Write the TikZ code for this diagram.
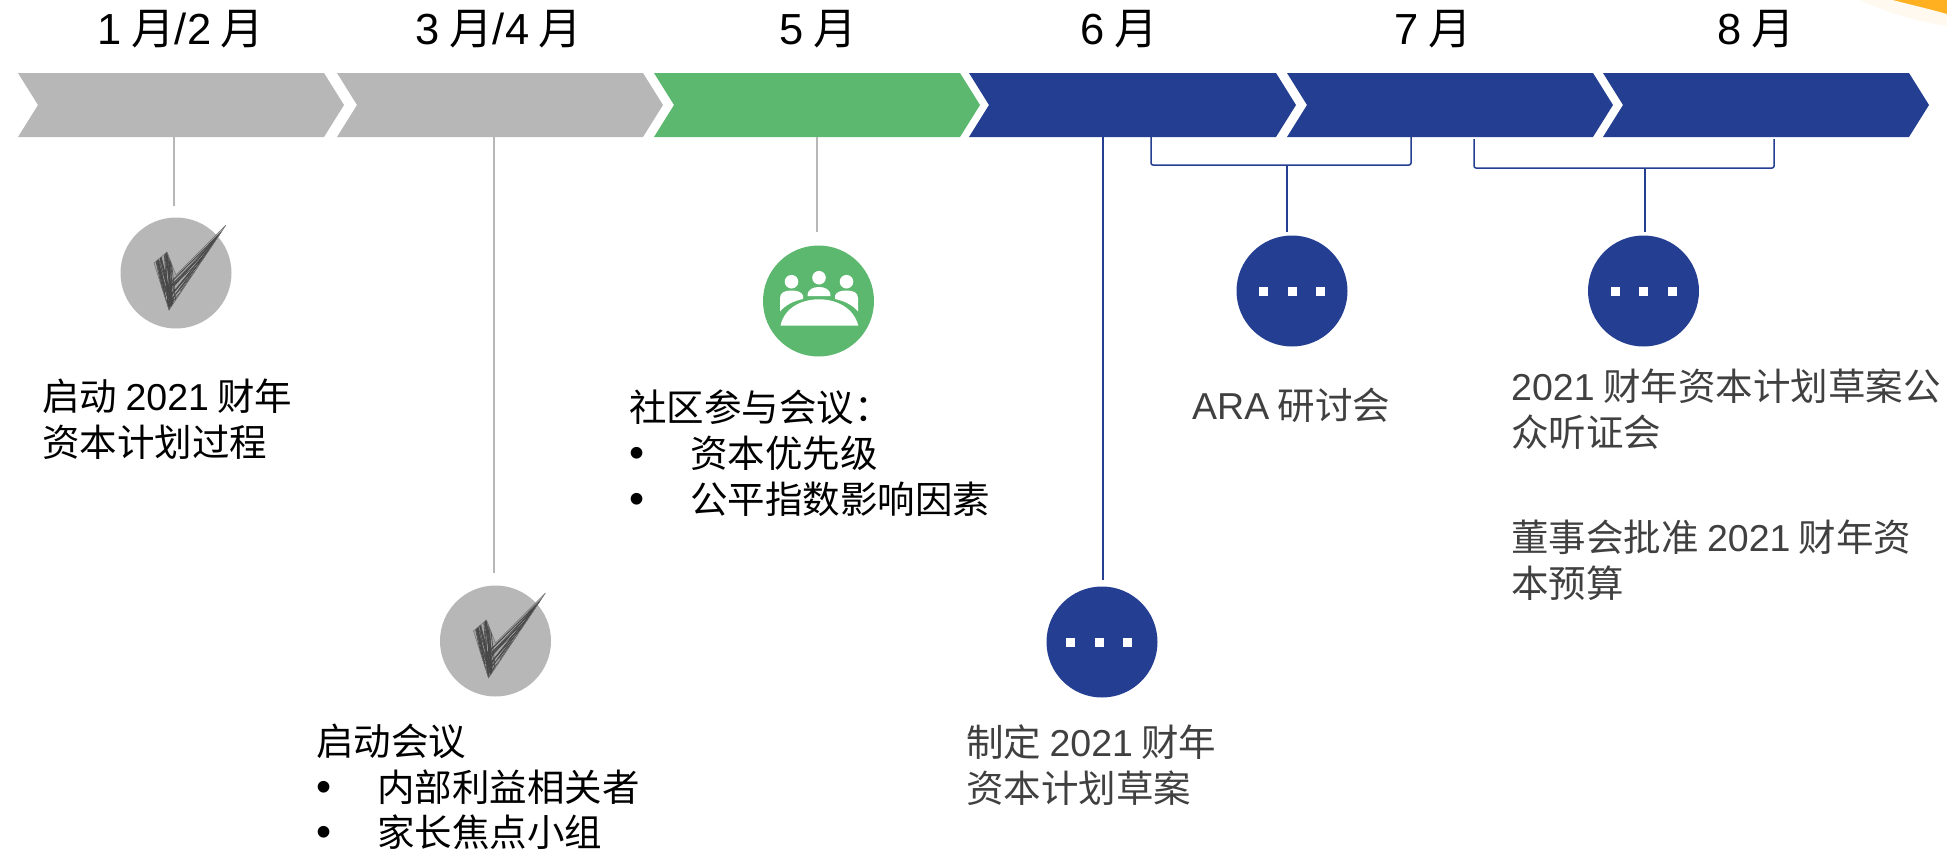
\documentclass[tikz,border=0pt]{standalone}
\usepackage{fontspec}
\setmainfont{Noto Sans CJK SC}
\newfontfamily\lat{Liberation Sans}
\newcommand{\la}[1]{{\lat #1}}
\newcommand{\bul}[1]{\makebox[61pt][l]{\lat\fontsize{43pt}{46pt}\selectfont •}#1}
\usetikzlibrary{calc}
\definecolor{chgray}{HTML}{B7B7B7}
\definecolor{chgreen}{HTML}{5CB86F}
\definecolor{chblue}{HTML}{243E92}
\definecolor{txt}{HTML}{404040}
\definecolor{orangec}{HTML}{FFB020}
\tikzset{
 x=1pt,y=-1pt,
 chev/.style={fill=#1,draw=none},
 grayline/.style={draw=chgray,line width=2pt},
 blueline/.style={draw=chblue,line width=2pt},
 thinblue/.style={draw=chblue,line width=1.5pt,rounded corners=2pt},
 month/.style={font=\fontsize{43.5pt}{46pt}\selectfont,text=black,inner sep=0pt,anchor=center},
 body/.style={font=\fontsize{37.5pt}{45.6pt}\selectfont,text=#1,inner sep=0pt,anchor=north west,align=left},
 body/.default=txt,
 disc/.style={circle,fill=#1,minimum size=111pt,inner sep=0pt,draw=none},
 dotsq/.style={fill=white,draw=none,minimum size=9pt,inner sep=0pt},
 scribblecheck/.pic={
  \begin{scope}
   \clip (-22,-10) -- (-9,-21) -- (0,2) -- (50,-48) -- (-7,37) -- cycle;
   \fill[black!40,opacity=.6] (-30,-50) rectangle (55,40);
   \pgfmathsetseed{11}
   \foreach \i in {1,...,30}{
     \pgfmathsetmacro{\ax}{-24+rnd*22}
     \pgfmathsetmacro{\bx}{-10+rnd*12}
     \draw[black!72,line width=.6pt] (\ax,-22) -- (\bx,38);
   }
   \foreach \i in {1,...,30}{
     \pgfmathsetmacro{\ax}{-12+rnd*26}
     \pgfmathsetmacro{\ay}{38-rnd*26}
     \pgfmathsetmacro{\by}{-52+rnd*16}
     \draw[black!72,line width=.55pt] (\ax,\ay) -- (52,\by);
   }
  \end{scope}
  \draw[black!55,line width=.5pt] (-22,-10) -- (-9,-21) -- (0,2) -- (50,-48) -- (-7,37) -- cycle;
 }
}
\begin{document}
\begin{tikzpicture}
\useasboundingbox (0,0) rectangle (1947,852);
% orange corner
\fill[orangec!7] (1860,0) .. controls (1890,14) and (1920,22) .. (1947,26) -- (1947,0) -- cycle;
\fill[orangec] (1893,0) .. controls (1912,5) and (1930,9) .. (1947,14) -- (1947,0) -- cycle;
% chevrons
\fill[chev=chgray] (18,73) -- (324,73) -- (344,105) -- (324,137) -- (18,137) -- (38,105) -- cycle;
\fill[chev=chgray] (337,73) -- (643,73) -- (663,105) -- (643,137) -- (337,137) -- (357,105) -- cycle;
\fill[chev=chgreen] (654,73) -- (960,73) -- (980,105) -- (960,137) -- (654,137) -- (674,105) -- cycle;
\fill[chev=chblue] (969,73) -- (1276,73) -- (1296,105) -- (1276,137) -- (969,137) -- (989,105) -- cycle;
\fill[chev=chblue] (1287,73) -- (1593,73) -- (1613,105) -- (1593,137) -- (1287,137) -- (1307,105) -- cycle;
\fill[chev=chblue] (1603,73) -- (1909,73) -- (1929,105) -- (1909,137) -- (1603,137) -- (1623,105) -- cycle;
% months
\node[month] (m1) at (181,29) {\la{1} 月\la{/2} 月};
\node[month] (m2) at (499,29) {\la{3} 月\la{/4} 月};
\node[month] (m3) at (818,29) {\la{5} 月};
\node[month] (m4) at (1119,29) {\la{6} 月};
\node[month] (m5) at (1433,29) {\la{7} 月};
\node[month] (m6) at (1756,29) {\la{8} 月};
% discs
\node[disc=chgray] (d1) at (176,273) {};
\node[disc=chgray] (d2) at (495.5,641) {};
\node[disc=chgreen] (d3) at (818.5,301) {};
\node[disc=chblue] (d4) at (1102,642) {};
\node[disc=chblue] (d5) at (1292,291) {};
\node[disc=chblue] (d6) at (1643.5,291) {};
\pic at (d1) {scribblecheck};
\pic at (d2) {scribblecheck};
% dots
\foreach \n/\dx in {d4/-3,d5/0,d6/0}{
  \foreach \o in {-28.5,0,28.5}{
    \node[dotsq] at ($(\n)+(\dx+\o,0)$) {};
  }
}
% meeting icon
\begin{scope}[shift={(d3)}]
 \fill[white] (-27,-19.3) circle (6.8);
 \fill[white] (0.5,-23.3) circle (6.8);
 \fill[white] (28,-19.3) circle (6.8);
 \fill[white] (-11,-5) .. controls (-11,-12) and (-5,-14) .. (0.5,-14) .. controls (6,-14) and (12,-12) .. (12,-5) -- cycle;
 \fill[white] (-38.5,10.5) -- (-38.5,-3) .. controls (-38.5,-9) and (-33,-10.5) .. (-27,-10.5) .. controls (-21,-10.5) and (-17,-9) .. (-15.5,-5.5) -- (-15.5,-2) .. controls (-25,0) and (-33,4) .. (-38.5,10.5) -- cycle;
 \fill[white] (39.5,10.5) -- (39.5,-3) .. controls (39.5,-9) and (34,-10.5) .. (28,-10.5) .. controls (22,-10.5) and (18,-9) .. (16.5,-5.5) -- (16.5,-2) .. controls (26,0) and (34,4) .. (39.5,10.5) -- cycle;
 \fill[white] (-38,24.7) .. controls (-34,6) and (-16,-1.7) .. (0.5,-1.7) .. controls (17,-1.7) and (35,6) .. (39.8,24.7) -- cycle;
\end{scope}
% connectors
\coordinate (c1t) at (174,137); \coordinate (c1b) at (174,206);
\coordinate (c2t) at (494,137); \coordinate (c2b) at (494,573);
\coordinate (c3t) at (817,137); \coordinate (c3b) at (817,232);
\coordinate (c4t) at (1102.5,137); \coordinate (c4b) at (1102.5,580);
\draw[grayline] (c1t) -- (c1b);
\draw[grayline] (c2t) -- (c2b);
\draw[grayline] (c3t) -- (c3b);
\draw[blueline] (c4t) -- (c4b);
\coordinate (b1a) at (1151,137); \coordinate (b1b) at (1151,165); \coordinate (b1c) at (1411,165); \coordinate (b1d) at (1411,137);
\coordinate (s1t) at (1287,165); \coordinate (s1b) at (1287,232);
\draw[thinblue] (b1a) -- (b1b) -- (b1c) -- (b1d);
\draw[blueline] (s1t) -- (s1b);
\coordinate (b2a) at (1474,139); \coordinate (b2b) at (1474,168); \coordinate (b2c) at (1774,168); \coordinate (b2d) at (1774,139);
\coordinate (s2t) at (1645,168); \coordinate (s2b) at (1645,232);
\draw[thinblue] (b2a) -- (b2b) -- (b2c) -- (b2d);
\draw[blueline] (s2t) -- (s2b);
% labels
\node[body=black] (t1) at (42,379) {启动 \la{2021} 财年\\资本计划过程};
\node[body=black] (t2) at (316,724) {启动会议\\\bul{内部利益相关者}\\\raisebox{0pt}[\height][0pt]{\bul{家长焦点小组}}};
\node[body=black] (t3) at (629,390) {社区参与会议：\\\bul{资本优先级}\\\bul{公平指数影响因素}};
\node[body] (t4) at (966,725) {制定 \la{2021} 财年\\资本计划草案};
\node[body] (t5) at (1192,388) {\la{ARA} 研讨会};
\node[body] (t6) at (1511,369) {\la{2021} 财年资本计划草案公\\众听证会};
\node[body] (t7) at (1511,520) {董事会批准 \la{2021} 财年资\\本预算};
\end{tikzpicture}
\end{document}
